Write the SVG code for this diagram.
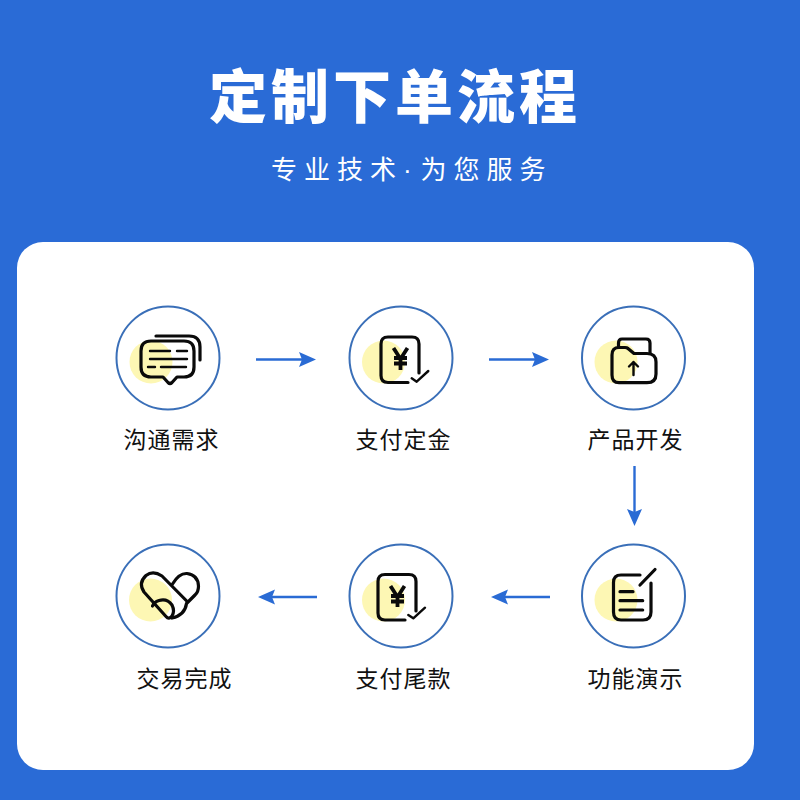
<svg xmlns="http://www.w3.org/2000/svg" width="800" height="800" viewBox="0 0 800 800">
<defs>
<style>
text{font-family:"Noto Sans CJK SC","Noto Sans",sans-serif}
.t{font-size:58px;font-weight:900;fill:#fff;letter-spacing:4px}
.s{font-size:26px;fill:#fff;letter-spacing:7px;font-weight:400}
.d{font-family:"Liberation Sans",sans-serif;letter-spacing:0}
.l{font-size:23px;fill:#111;letter-spacing:1px;font-weight:400}
.ring{fill:#fff;stroke:#3a6fb8;stroke-width:2}
.y{fill:#fdf7b4}
.i{fill:none;stroke:#0a0a0a;stroke-width:3.200;stroke-linecap:round;stroke-linejoin:round}
.k{fill:none;stroke:#0a0a0a;stroke-width:2.400;stroke-linecap:round;stroke-linejoin:round}
.yen{fill:none;stroke:#0a0a0a;stroke-width:3.800}
.c{stroke:#2a6bd4;stroke-width:2.400;fill:none}
.h{fill:#2a6bd4}
</style>
</defs>
<rect width="800" height="800" fill="#2a6bd6"/>
<text class="t" x="209" y="118">定制下单流程</text>
<text class="s" y="179"><tspan x="271">专业技术</tspan><tspan class="d" x="403">·</tspan><tspan x="420.500">为您服务</tspan></text>
<rect x="17" y="242" width="737" height="528" rx="26" fill="#fff"/>
<g id="connectors">
<path class="c" d="M256 359.500H304"/><path class="h" d="M316 359.500L299 352L302 359.500L299 367Z"/>
<path class="c" d="M489 359.500H537"/><path class="h" d="M549 359.500L532 352L535 359.500L532 367Z"/>
<path class="c" d="M634.500 466V514"/><path class="h" d="M634.500 526L627 509L634.500 512L642 509Z"/>
<path class="c" d="M550 597H503"/><path class="h" d="M491 597L508 589.500L505 597L508 604.500Z"/>
<path class="c" d="M317 597H270"/><path class="h" d="M258 597L275 589.500L272 597L275 604.500Z"/>
</g>
<g id="node1">
<circle class="ring" cx="168" cy="358" r="51.500"/>
<circle class="y" cx="151" cy="362" r="21.500"/>
<path class="i" d="M151 341H184Q194 341 194 351V367Q194 377 184 377H177L172 382.500Q170 384.500 168 382.500L163 377H151Q141 377 141 367V351Q141 341 151 341Z"/>
<path class="i" d="M156 336H189Q200 336 200 347V360"/>
<path class="k" stroke-width="2.800" d="M150 351H170M177 351H187M150 359H187M148 367H155M161 367H186"/>
<text class="l" x="123.500" y="448">沟通需求</text>
</g>
<g id="node2">
<circle class="ring" cx="401" cy="358" r="51.500"/>
<circle class="y" cx="383.500" cy="362" r="21.500"/>
<path class="i" d="M408 382.500H388Q381 382.500 381 375.500V344Q381 337 388 337H412Q419 337 419 344V373"/>
<path class="yen" d="M393.500 348L400.500 359L407.500 348M400.500 359V370M394 358H407M394 363.500H407"/>
<path class="k" d="M411.700 378.300L416.700 381.700L428.300 371"/>
<text class="l" x="355.500" y="448">支付定金</text>
</g>
<g id="node3">
<circle class="ring" cx="633.500" cy="358" r="51.500"/>
<circle class="y" cx="616" cy="362" r="21.500"/>
<path class="i" d="M618.500 347V343Q618.500 339 622 339H646Q650 339 650 343V353"/>
<path class="i" d="M619 382.700H647Q656 382.700 656 374V362Q656 353.500 647 353.500H634L628 348.500Q627 347.500 625 347.500H619Q612 347.500 612 355V375Q612 382.700 619 382.700Z"/>
<path class="k" d="M633.500 375V362M629 366.500L633.500 362L638 366.500"/>
<text class="l" x="587.500" y="448">产品开发</text>
</g>
<g id="node4">
<circle class="ring" cx="633.500" cy="596" r="51.500"/>
<circle class="y" cx="616" cy="600" r="21.500"/>
<path class="i" d="M640 575H621Q613.500 575 613.500 582.500V612Q613.500 620 621 620H643Q651 620 651 612V583"/>
<path class="i" d="M640 585L655 569.500M620 591.700H633M620 600.700H642.700M620 610H642.700"/>
<text class="l" x="587.500" y="687">功能演示</text>
</g>
<g id="node5">
<circle class="ring" cx="401" cy="596" r="51.500"/>
<circle class="y" cx="383.500" cy="600" r="21.500"/>
<path class="i" d="M405 620H385Q378 620 378 613V581.500Q378 574.500 385 574.500H409Q416 574.500 416 581.500V611"/>
<path class="yen" d="M390.500 586L397.500 597L404.500 586M397.500 597V607M391 596H404M391 601.500H404"/>
<path class="k" d="M408.300 615L413.300 618.300L425 607.700"/>
<text class="l" x="355.500" y="687">支付尾款</text>
</g>
<g id="node6">
<circle class="ring" cx="168" cy="596" r="51.500"/>
<circle class="y" cx="150.500" cy="600" r="21.500"/>
<path class="i" d="M186.700 601L162 576Q153 570 146 575.500Q138 583 144 592L166 616.500Q169 620 172 616Q175 611 172 605Q167 598 159 600.500Q154 602 152.500 606"/>
<path class="i" d="M172.500 584Q179 573 187 573.500Q198 575 198.500 586Q198.500 592 195 595L186.500 603.500Q185 615 172 618"/>
<text class="l" x="136.500" y="687">交易完成</text>
</g>
</svg>
